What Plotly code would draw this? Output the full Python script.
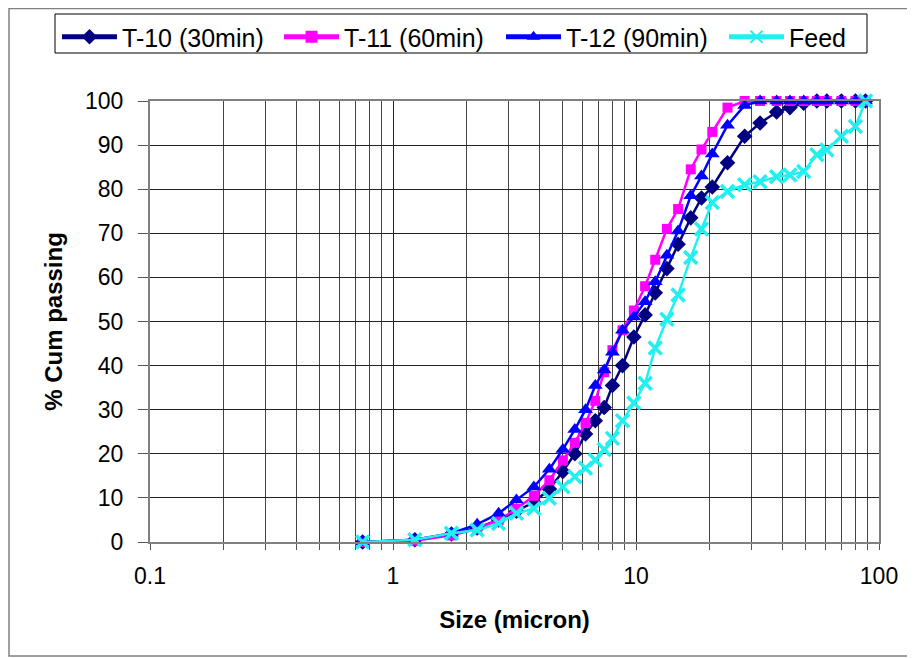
import plotly.graph_objects as go

sizes = [0.75, 1.23, 1.74, 2.22, 2.72, 3.22, 3.8, 4.4, 5.0, 5.6, 6.2, 6.8, 7.4, 8.0, 8.8, 9.8,
         10.9, 12.0, 13.4, 14.9, 16.8, 18.6, 20.6, 23.8, 28.0, 32.4, 37.9, 43.0, 49.0, 55.5,
         61.0, 70.0, 80.0, 88.0]

t10 = [0, 0.5, 1.8, 3.2, 5, 7, 9, 12, 16, 20, 24.5, 27.5, 30.5, 35.5, 40, 46.5,
       51.5, 56.5, 62, 67.5, 73.5, 78, 80.5, 86, 92, 95, 97.5, 98.5, 99.5, 100,
       100, 100, 100, 100]
t11 = [0, 0.3, 1.5, 3, 5, 7.5, 10.5, 14, 18.5, 22.5, 27, 32, 38.5, 43.5, 48, 52.5,
       58, 64, 71, 75.5, 84.5, 89, 93, 98.5, 100, 100, 100, 100, 100, 100,
       100, 100, 100, 100]
t12 = [0, 0.5, 2, 4, 6.5, 9.5, 12.5, 16.5, 21, 25.5, 30, 35.5, 39, 43, 48, 51,
       54.5, 59, 65, 70.5, 78.5, 83, 88, 94.5, 99, 100, 100, 100, 100, 100,
       100, 100, 100, 100]
feed = [0, 0.5, 2, 2.7, 4.2, 6.5, 7.6, 9.9, 12.5, 14.8, 16.7, 18.6, 21, 23.5, 27.5, 31.5,
        36, 44, 50.5, 56, 64.5, 71, 77, 79.5, 81, 81.7, 82.8, 83.2, 84, 87.8,
        88.9, 92, 94.2, 100]

series = [
    ("T-10 (30min)", t10, "#000080", dict(symbol="diamond", size=12), "legend"),
    ("T-11 (60min)", t11, "#FF00FF", dict(symbol="square", size=10), "legend"),
    ("T-12 (90min)", t12, "#0000FF", dict(symbol="triangle-up", size=13), "legend"),
    ("Feed", feed, "#22F0F0", dict(symbol="x-thin", size=13), "legend2"),
]

fig = go.Figure()
for name, vals, col, mk, lg in series:
    m = dict(mk, color=col)
    if mk["symbol"] == "x-thin":
        m["line"] = dict(color=col, width=3.5)
    fig.add_trace(go.Scatter(
        x=sizes, y=vals, name=name, mode="lines+markers", legend=lg,
        line=dict(color=col, width=2.5), marker=m, cliponaxis=False))

# page body has an 8px margin, so the figure is drawn at (8, 8)
OFF = 8
W, H = 915 - OFF, 658 - OFF
L, R, T, B = 150 - OFF, 36, 101 - OFF, 116
pw, ph = W - L - R, H - T - B

def px(xp):
    return (xp - OFF - L) / pw

def py(yp):
    return (H - B - (yp - OFF)) / ph

leg_common = dict(orientation="h", xanchor="left", y=py(14), yanchor="top",
                  borderwidth=0, bgcolor="rgba(0,0,0,0)", font=dict(size=25),
                  itemwidth=55, itemsizing="constant", tracegroupgap=0)

fig.update_layout(
    width=W, height=H,
    margin=dict(l=L, r=R, t=T, b=B, autoexpand=False),
    paper_bgcolor="white", plot_bgcolor="white",
    font=dict(family="Liberation Sans, Arial, sans-serif", color="black", size=22),
    legend=dict(leg_common, x=px(57), entrywidth=152),
    legend2=dict(leg_common, x=px(724)),
    showlegend=True,
    shapes=[dict(type="rect", xref="paper", yref="paper",
                 x0=px(9), x1=px(912), y0=py(656), y1=py(8.5),
                 line=dict(color="#808080", width=1.5), layer="below"),
            dict(type="rect", xref="paper", yref="paper",
                 x0=px(55), x1=px(867), y0=py(53), y1=py(14),
                 line=dict(color="black", width=1), layer="below")],
)

fig.update_xaxes(
    type="log", range=[-1, 2], dtick=1, tickfont=dict(size=23),
    showgrid=True, gridcolor="#222222", gridwidth=1,
    ticks="outside", ticklen=6, tickcolor="#555555", ticklabelstandoff=6,
    minor=dict(dtick="D1", showgrid=True, gridcolor="#444444", gridwidth=1,
               ticks="outside", ticklen=6, tickcolor="#555555"),
    showline=True, linecolor="#808080", linewidth=2, mirror=True,
    title=dict(text="<b>Size (micron)</b>", font=dict(size=24), standoff=24),
    zeroline=False,
)
fig.update_yaxes(
    range=[0, 100], dtick=10, tickfont=dict(size=23),
    showgrid=True, gridcolor="#222222", gridwidth=1,
    ticks="outside", ticklen=10, tickcolor="#555555", ticklabelstandoff=10,
    showline=True, linecolor="#808080", linewidth=2, mirror=True,
    title=dict(text="<b>% Cum passing</b>", font=dict(size=24), standoff=16),
    zeroline=False,
)

fig.write_html("out.html")
